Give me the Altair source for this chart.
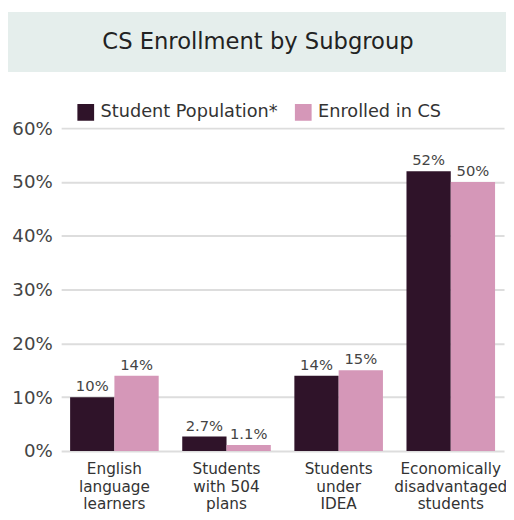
import altair as alt
import pandas as pd

categories = ["English|language|learners", "Students|with 504|plans",
              "Students|under|IDEA", "Economically|disadvantaged|students"]
series = ["Student Population*", "Enrolled in CS"]
population = [10, 2.7, 14, 52]
enrolled = [14, 1.1, 15, 50]
colors = ["#2f1329", "#d597b8"]
y_ticks = [0, 10, 20, 30, 40, 50, 60]

rows = []
for c, p, e in zip(categories, population, enrolled):
    rows.append({"cat": c, "series": series[0], "value": p, "label": f"{p:g}%"})
    rows.append({"cat": c, "series": series[1], "value": e, "label": f"{e:g}%"})
df = pd.DataFrame(rows)

FONT = "DejaVu Sans"

x = alt.X("cat:N", sort=categories, title=None,
          scale=alt.Scale(paddingInner=0.21, paddingOuter=0.08),
          axis=alt.Axis(labelAngle=0, labelExpr="split(datum.label, '|')",
                        labelFontSize=15.5, labelColor="#333", labelFont=FONT,
                        labelLineHeight=18, labelPadding=11, domain=False, ticks=False))
y = alt.Y("value:Q", title=None,
          scale=alt.Scale(domain=[0, 60], nice=False),
          axis=alt.Axis(values=y_ticks, labelExpr="datum.value + '%'",
                        labelFontSize=18.5, labelColor="#444", labelFont=FONT,
                        labelPadding=9, domain=False, ticks=False,
                        gridColor="#dddddd", gridWidth=2))
xo = alt.XOffset("series:N", sort=series, scale=alt.Scale(paddingInner=0))

bars = alt.Chart(df).mark_bar().encode(
    x=x, y=y, xOffset=xo,
    color=alt.Color("series:N", sort=series,
                    scale=alt.Scale(domain=series, range=colors),
                    legend=alt.Legend(title=None, orient="none", legendX=16, legendY=-25,
                                      direction="horizontal", symbolType="square",
                                      symbolSize=289, symbolStrokeWidth=0,
                                      labelFontSize=18, labelColor="#333", labelFont=FONT,
                                      labelLimit=400, columnPadding=16, labelOffset=6)),
)

texts = alt.Chart(df).mark_text(dy=-11, fontSize=15, color="#444", font=FONT).encode(
    x=x, y=y, xOffset=xo, text="label:N"
)

box_df = pd.DataFrame({"t": ["CS Enrollment by Subgroup"]})
box = alt.Chart(box_df).mark_rect(color="#e5eeec").encode(
    x=alt.value(-54), x2=alt.value(452), y=alt.value(-118), y2=alt.value(-57)
)
title = alt.Chart(box_df).mark_text(fontSize=23, color="#222", font=FONT).encode(
    x=alt.value(200), y=alt.value(-87), text="t:N"
)

chart = alt.layer(box, title, bars, texts).properties(
    width=450, height=328,
    autosize=alt.AutoSizeParams(type="none"),
    padding={"left": 54, "top": 118, "right": 2, "bottom": 60},
).configure_view(stroke=None).configure_axis(grid=True)
chart = chart.configure_axisX(grid=False)

chart.save("out.html", embed_options={"renderer": "svg", "actions": False})
